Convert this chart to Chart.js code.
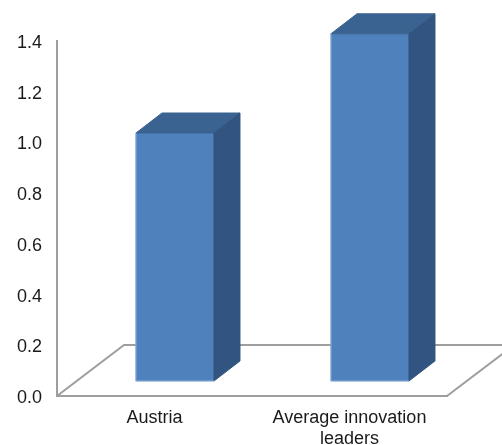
<!DOCTYPE html>
<html>
<head>
<meta charset="utf-8">
<title>Austria vs innovation leaders</title>
<script src="https://cdn.jsdelivr.net/npm/chart.js@4"></script>
<style>
  html, body { margin: 0; padding: 0; background: #fff; }
  canvas { display: block; }
</style>
</head>
<body>
<canvas id="chart" width="502" height="445"></canvas>
<script>
// Data
const categories = ["Austria", ["Average innovation", "leaders"]];
const categoryIndex = [0, 1];
const values = [1.0, 1.4];

// Colours
const frontColor = "#4f81bd";
const topColor = "#3b6391";
const sideColor = "#325480";
const edgeColor = "#8fb0d8";
const axisColor = "#9e9e9e";
const textColor = "#1a1a1a";

// 3D look: the floor and the bar depth, in pixels
const floorDepth = { x: 67, y: 51 };
const barDepth = { x: 26, y: 20 };

function fillPoly(ctx, pts, color) {
  ctx.beginPath();
  pts.forEach((p, i) => i ? ctx.lineTo(p[0], p[1]) : ctx.moveTo(p[0], p[1]));
  ctx.closePath();
  ctx.fillStyle = color;
  ctx.fill();
  ctx.strokeStyle = color;
  ctx.lineWidth = 1;
  ctx.stroke();
}

const floorPlugin = {
  id: "floor",
  beforeDatasetsDraw(chart) {
    const { ctx, chartArea: a } = chart;
    ctx.save();
    ctx.strokeStyle = axisColor;
    ctx.lineWidth = 2;
    ctx.beginPath();
    ctx.moveTo(a.left, a.bottom);
    ctx.lineTo(a.left + floorDepth.x, a.bottom - floorDepth.y);
    ctx.lineTo(chart.width, a.bottom - floorDepth.y);
    ctx.moveTo(a.right, a.bottom);
    ctx.lineTo(a.right + floorDepth.x, a.bottom - floorDepth.y);
    ctx.stroke();
    ctx.restore();
  }
};

const bar3dPlugin = {
  id: "bar3d",
  afterDatasetsDraw(chart) {
    const { ctx } = chart;
    ctx.save();
    chart.getDatasetMeta(0).data.forEach(bar => {
      const p = bar.getProps(["x", "y", "base", "width"], true);
      const l = p.x - p.width / 2, r = p.x + p.width / 2;
      const dx = barDepth.x, dy = barDepth.y;
      fillPoly(ctx, [[l, p.y], [l + dx, p.y - dy], [r + dx, p.y - dy], [r, p.y]], topColor);
      fillPoly(ctx, [[r, p.y], [r + dx, p.y - dy], [r + dx, p.base - dy], [r, p.base]], sideColor);
      // thin pale rim on the left and bottom of the bar
      ctx.strokeStyle = edgeColor;
      ctx.lineWidth = 1;
      ctx.beginPath();
      ctx.moveTo(l, p.y);
      ctx.lineTo(l, p.base);
      ctx.lineTo(r, p.base);
      ctx.stroke();
    });
    ctx.restore();
  }
};

new Chart(document.getElementById("chart"), {
  type: "bar",
  data: {
    labels: categories,
    datasets: [{
      data: categoryIndex.map((c, i) => ({ x: c, y: values[i] })),
      xAxisID: "xBar",
      yAxisID: "yBar",
      backgroundColor: frontColor,
      borderWidth: 0,
      barThickness: 78,
      clip: false
    }]
  },
  options: {
    responsive: false,
    animation: false,
    layout: { padding: { top: 41, right: 55, left: 0, bottom: 0 } },
    plugins: { legend: { display: false }, tooltip: { enabled: false } },
    scales: {
      x: {
        type: "category",
        labels: categories,
        grid: { display: false, drawTicks: false },
        border: { color: axisColor, width: 2 },
        ticks: { color: textColor, padding: 11, maxRotation: 0, autoSkip: false,
                 font: { family: "'Liberation Sans'", size: 18 } },
        afterFit(s) { s.height = 49; }
      },
      y: {
        min: 0,
        max: 1.4,
        grid: { display: false, drawTicks: false },
        border: { color: axisColor, width: 2 },
        ticks: { stepSize: 0.2, color: textColor, padding: 15, labelOffset: 2,
                 font: { family: "'Liberation Sans'", size: 18 },
                 callback: v => v.toFixed(1) },
        afterFit(s) { s.width = 57; }
      },
      // bars stand on the raised floor, so they use their own hidden axes
      xBar: { type: "linear", display: false, offset: false, min: -0.605, max: 1.395 },
      yBar: { type: "linear", display: false, min: -0.0605, max: 1.371 }
    }
  },
  plugins: [floorPlugin, bar3dPlugin]
});
</script>
</body>
</html>
